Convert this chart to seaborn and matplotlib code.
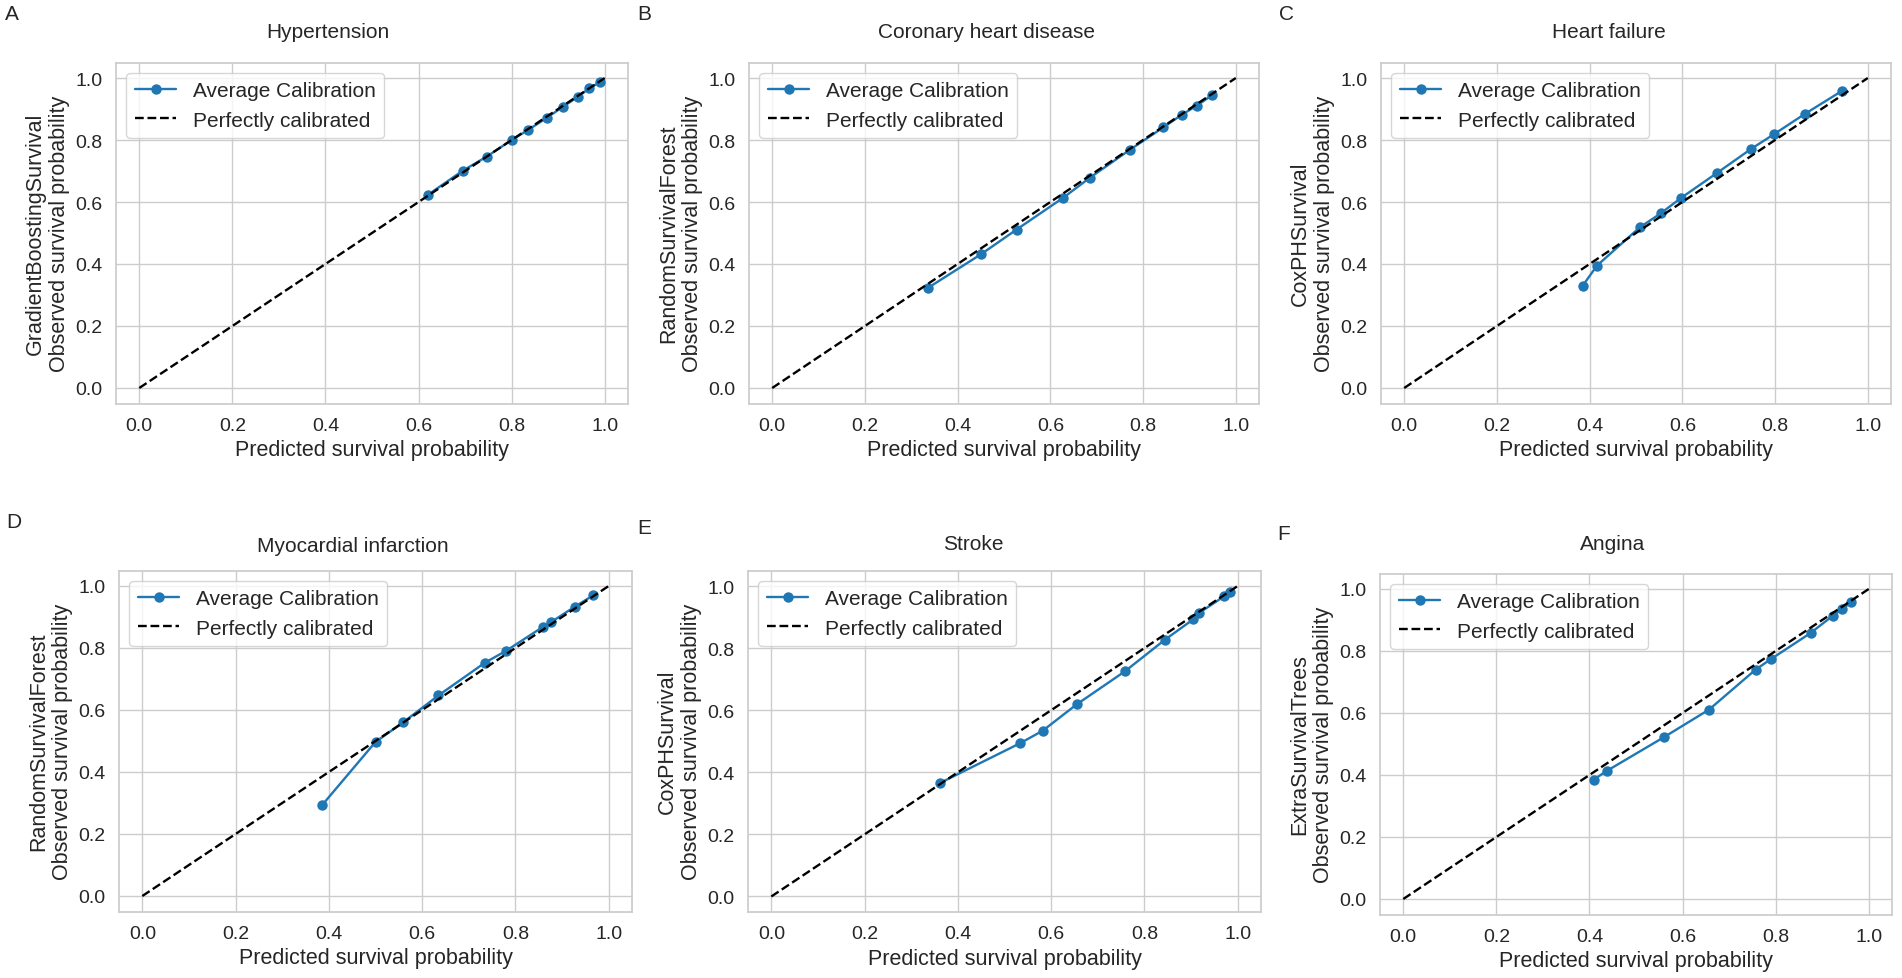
import matplotlib
matplotlib.use("Agg")
import matplotlib.pyplot as plt
import seaborn as sns
import pandas as pd

# ---------------- data ----------------
panel_letters = ["A", "B", "C", "D", "E", "F"]
diseases = ["Hypertension", "Coronary heart disease", "Heart failure",
            "Myocardial infarction", "Stroke", "Angina"]
models = ["GradientBoostingSurvival", "RandomSurvivalForest", "CoxPHSurvival",
          "RandomSurvivalForest", "CoxPHSurvival", "ExtraSurvivalTrees"]

pred_A = [0.620, 0.695, 0.746, 0.800, 0.835, 0.875, 0.911, 0.943, 0.967, 0.989]
obs_A = [0.623, 0.701, 0.746, 0.800, 0.832, 0.871, 0.908, 0.940, 0.967, 0.986]

pred_B = [0.336, 0.450, 0.527, 0.628, 0.685, 0.771, 0.844, 0.884, 0.916, 0.949]
obs_B = [0.323, 0.431, 0.511, 0.614, 0.678, 0.768, 0.841, 0.882, 0.911, 0.945]

pred_C = [0.385, 0.416, 0.508, 0.553, 0.598, 0.675, 0.748, 0.798, 0.864, 0.945]
obs_C = [0.330, 0.395, 0.518, 0.563, 0.614, 0.694, 0.771, 0.819, 0.884, 0.959]

pred_D = [0.386, 0.500, 0.559, 0.635, 0.735, 0.779, 0.860, 0.877, 0.927, 0.967]
obs_D = [0.294, 0.497, 0.560, 0.647, 0.753, 0.790, 0.869, 0.884, 0.933, 0.970]

pred_E = [0.361, 0.534, 0.582, 0.655, 0.758, 0.844, 0.905, 0.917, 0.971, 0.983]
obs_E = [0.365, 0.494, 0.534, 0.619, 0.725, 0.827, 0.893, 0.913, 0.967, 0.981]

pred_F = [0.409, 0.437, 0.560, 0.657, 0.757, 0.790, 0.875, 0.923, 0.943, 0.962]
obs_F = [0.385, 0.413, 0.522, 0.611, 0.740, 0.774, 0.858, 0.914, 0.935, 0.957]

perfect_line = [0.0, 1.0]
tick_values = [0.0, 0.2, 0.4, 0.6, 0.8, 1.0]

predicted = [pred_A, pred_B, pred_C, pred_D, pred_E, pred_F]
observed = [obs_A, obs_B, obs_C, obs_D, obs_E, obs_F]

# ---------------- style ----------------
sns.set_theme(style="whitegrid")
plt.rcParams["font.family"] = ["Liberation Sans", "DejaVu Sans"]
FS_TICK = 14
FS_LABEL = 15.5
FS_TITLE = 15
FS_LEGEND = 15

W, H = 1902, 979
fig = plt.figure(figsize=(W / 100, H / 100), dpi=100)

# axes rectangles in pixels: left, top, right, bottom
rects_px = [
    (116, 63.5, 628, 404.5),
    (749, 63.5, 1259, 404.5),
    (1381, 63.5, 1891, 404.5),
    (119, 571.5, 632, 912.5),
    (748, 571.5, 1261, 913),
    (1380, 574.5, 1892, 915.5),
]
title_px = [(328, 33), (987, 33), (1609, 33), (353, 547), (973, 545), (1613, 545)]
letter_px = [(12, 15), (644, 15), (1286, 15), (14, 523), (644, 528), (1284, 535)]

for i in range(6):
    l, t, r, b = rects_px[i]
    ax = fig.add_axes([l / W, 1 - b / H, (r - l) / W, (b - t) / H])
    df = pd.DataFrame({"pred": predicted[i], "obs": observed[i]})
    sns.lineplot(data=df, x="pred", y="obs", ax=ax, marker="o", color="#1f77b4",
                 markersize=7.5, markeredgewidth=0, linewidth=1.7, estimator=None,
                 sort=False, label="Average Calibration")
    diag = pd.DataFrame({"x": perfect_line, "y": perfect_line})
    sns.lineplot(data=diag, x="x", y="y", ax=ax, color="black", linestyle="--",
                 linewidth=1.7, estimator=None, label="Perfectly calibrated")
    ax.set_xlim(-0.05, 1.05)
    ax.set_ylim(-0.05, 1.05)
    ax.set_xticks(tick_values)
    ax.set_yticks(tick_values)
    ax.tick_params(labelsize=FS_TICK)
    ax.set_xlabel("Predicted survival probability", fontsize=FS_LABEL)
    ax.set_ylabel(models[i] + "\nObserved survival probability", fontsize=FS_LABEL)
    ax.legend(loc="upper left", fontsize=FS_LEGEND)
    tx, ty = title_px[i]
    fig.text(tx / W, 1 - ty / H, diseases[i], ha="center", va="center", fontsize=FS_TITLE)
    lx, ly = letter_px[i]
    fig.text(lx / W, 1 - ly / H, panel_letters[i], ha="center", va="center", fontsize=FS_TITLE)

fig.savefig("out.png", dpi=100)
